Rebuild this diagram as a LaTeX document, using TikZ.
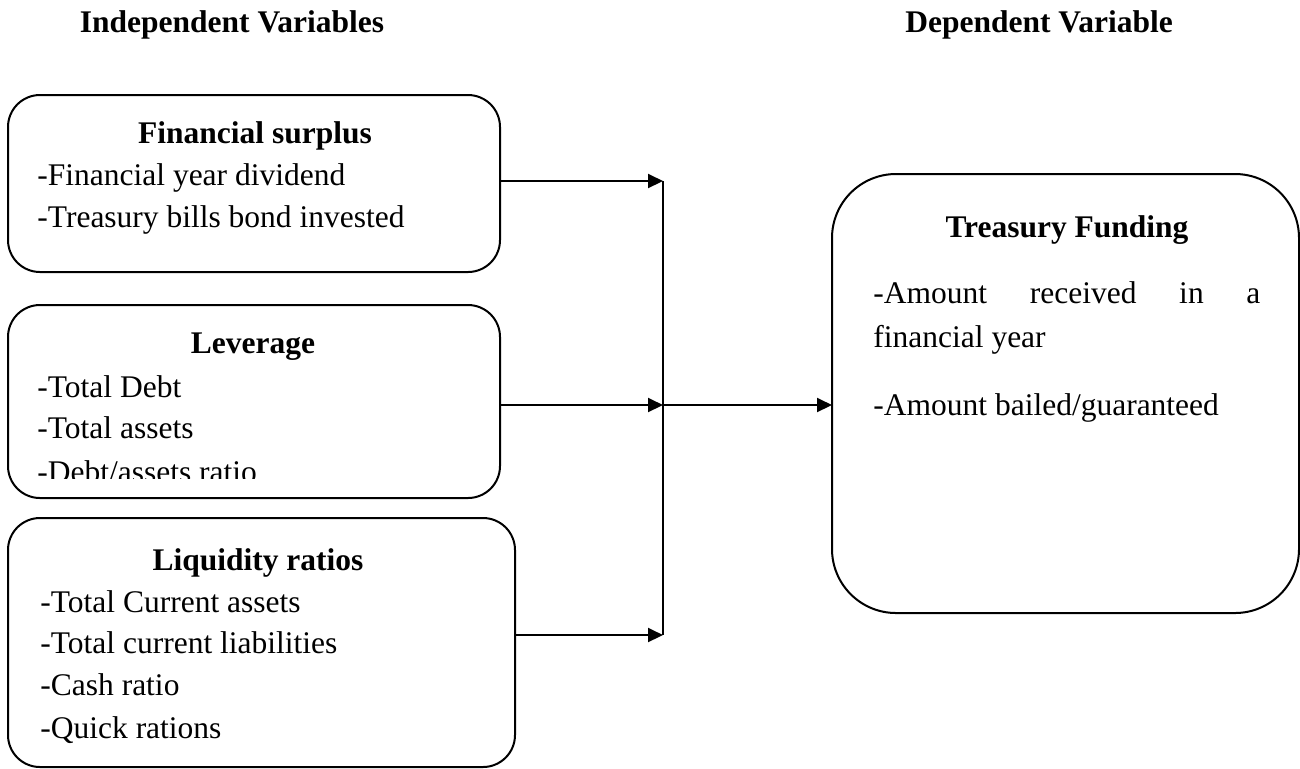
\documentclass[tikz,border=0pt]{standalone}
\usepackage{fontspec}
\setmainfont{Liberation Serif}
\usetikzlibrary{arrows.meta}
\begin{document}
\begin{tikzpicture}[x=0.5pt,y=-0.5pt,
  every node/.style={font=\fontsize{15.75}{21}\selectfont},
  box/.style={draw, line width=1pt, rounded corners=16pt, inner sep=0pt, outer sep=0pt},
  bigbox/.style={draw, line width=1pt, rounded corners=32pt, inner sep=0pt, outer sep=0pt},
  txt/.style={inner sep=0pt, anchor=base west},
  ttl/.style={inner sep=0pt, anchor=base, font=\fontsize{15.75}{21}\selectfont\bfseries},
  conn/.style={line width=1pt},
  arr/.style={line width=1pt, -{Triangle[length=7.5pt,width=7pt]}}]
\useasboundingbox (0,0) rectangle (1300,768);

% headers
\node[ttl] (hind) at (232,32) {Independent Variables};
\node[ttl] (hdep) at (1039,32) {Dependent Variable};

% boxes
\node[box, minimum width=246pt, minimum height=88.5pt] (fs) at (254,183.5) {};
\node[box, minimum width=246pt, minimum height=96.5pt] (lev) at (254,401.5) {};
\node[box, minimum width=253.5pt, minimum height=124.5pt] (liq) at (261.5,642.5) {};
\node[bigbox, minimum width=233.5pt, minimum height=219.5pt] (tf) at (1065.5,393.5) {};

% financial surplus
\node[ttl] (fst) at (255,143) {Financial surplus};
\node[txt] (fs1) at (37,185) {-Financial year dividend};
\node[txt] (fs2) at (37,227) {-Treasury bills bond invested};

% leverage
\node[ttl] (levt) at (253,353) {Leverage};
\node[txt] (lev1) at (37,397) {-Total Debt};
\node[txt] (lev2) at (37,438) {-Total assets};
\begin{scope}
\clip (0,0) rectangle (1300,478);
\node[txt] (lev3) at (37,482) {-Debt/assets ratio};
\end{scope}

% liquidity
\node[ttl] (liqt) at (258,570) {Liquidity ratios};
\node[txt] (liq1) at (40,612) {-Total Current assets};
\node[txt] (liq2) at (40,653) {-Total current liabilities};
\node[txt] (liq3) at (40,695) {-Cash ratio};
\node[txt] (liq4) at (40,738) {-Quick rations};

% treasury funding
\node[ttl] (tft) at (1067,237) {Treasury Funding};
\node[txt] (tf1) at (873,303) {\makebox[193.5pt][l]{-Amount\hfill received\hfill in\hfill a}};
\node[txt] (tf2) at (873,347) {financial year};
\node[txt] (tf3) at (873,415) {-Amount bailed/guaranteed};

% connectors
\coordinate (j1) at (663,181);
\coordinate (j2) at (663,405);
\coordinate (j3) at (663,635);
\draw[arr] (fs.east |- j1) -- (j1);
\draw[arr] (lev.east |- j2) -- (j2);
\draw[arr] (liq.east |- j3) -- (j3);
\draw[conn] (j1) -- (j3);
\draw[arr] (j2) -- (tf.west |- j2);
\end{tikzpicture}
\end{document}
